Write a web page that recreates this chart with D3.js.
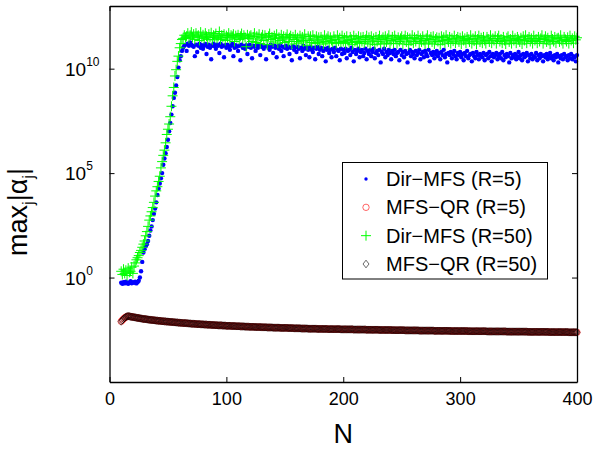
<!DOCTYPE html>
<html>
<head>
<meta charset="utf-8">
<script src="https://cdn.jsdelivr.net/npm/d3@7"></script>
<style>
  body { margin: 0; background: #fff; }
  text { font-family: "Liberation Sans", Arial, Helvetica, sans-serif; fill: #000; }
</style>
</head>
<body>
<svg id="chart" width="593" height="450"></svg>
<script>
// N runs 10..400, one point per N
const nValues = d3.range(10, 401);

// log10 of max_j |alpha_j|
const dirMfsR5Log = [
  -0.25,-0.3,-0.22,-0.28,-0.2,-0.26,-0.3,-0.24,-0.18,-0.27,-0.22,
  -0.25,-0.2,-0.28,-0.22,-0.15,0.0,0.3,0.75,1.2,1.35,1.5,1.6,1.75,2.0,2.25,2.45,2.75,3.05,3.3,3.6,
  3.95,4.25,4.5,4.75,5.0,5.4,5.7,5.95,6.25,6.6,7.0,7.4,7.8,8.2,8.6,8.85,9.2,9.6,10.05,10.4,
  10.6,10.85,11.0,11.1,11.15,
  10.85,11.2,11.1,11.25,11.15,
  11.1,11.05,10.6,11.15,10.8,11.1,11.2,11.0,11.12,10.95,
  11.1,11.18,10.7,11.05,11.15,11.0,10.45,11.1,11.2,11.08,
  10.95,11.15,11.1,10.75,11.2,11.05,11.1,10.55,11.12,11.0,
  11.15,11.05,10.9,11.1,11.18,10.6,11.0,11.12,11.05,10.85,
  11.1,10.4,11.15,11.0,11.08,10.95,11.12,10.7,11.05,11.15,
  11.0,10.5,11.1,11.05,10.85,11.15,11.0,11.1,10.65,11.05,
  11.12,10.95,11.08,10.45,11.1,11.0,10.9,11.15,11.05,10.75,
  11.1,11.0,10.55,11.08,10.95,11.12,10.85,11.05,10.6,11.0,
  11.1,10.95,11.05,10.7,11.0,10.4,11.08,10.9,11.02,10.8,
  11.05,10.95,10.5,11.0,10.85,11.1,10.95,10.65,11.0,10.9,
  10.55,11.05,10.9,10.8,11.0,10.45,10.95,11.05,10.7,10.9,
  11.0,10.6,10.85,10.95,10.35,10.9,11.0,10.75,10.9,10.55,
  10.95,10.8,11.0,10.6,10.9,10.85,10.4,10.95,10.7,10.9,
  10.75,10.95,10.5,10.85,10.9,10.65,11.0,10.8,10.35,10.9,
  10.7,10.85,10.95,10.55,10.8,10.9,10.6,10.75,10.95,10.45,
  10.85,10.7,10.9,10.6,10.8,10.95,10.5,10.75,10.85,10.65,
  10.9,10.3,10.8,10.7,10.95,10.55,10.8,10.65,10.9,10.75,
  10.45,10.85,10.7,10.9,10.6,10.75,10.8,10.4,10.9,10.65,
  10.8,10.55,10.85,10.7,10.3,10.75,10.9,10.6,10.8,10.7,
  10.5,10.85,10.65,10.75,10.9,10.45,10.7,10.8,10.55,10.85,
  10.7,10.6,10.9,10.35,10.75,10.65,10.8,10.5,10.7,10.85,
  10.6,10.75,10.45,10.8,10.65,10.9,10.55,10.7,10.3,10.75,
  10.65,10.8,10.5,10.7,10.85,10.6,10.45,10.75,10.65,10.8,
  10.55,10.7,10.4,10.75,10.6,10.85,10.5,10.65,10.7,10.35,
  10.75,10.6,10.5,10.8,10.65,10.45,10.7,10.6,10.55,10.75,
  10.4,10.65,10.7,10.5,10.8,10.6,10.35,10.7,10.55,10.65,
  10.75,10.45,10.6,10.7,10.5,10.8,10.4,10.65,10.55,10.7,
  10.6,10.3,10.75,10.5,10.65,10.55,10.7,10.45,10.6,10.8,
  10.5,10.65,10.4,10.7,10.55,10.6,10.75,10.35,10.65,10.5,
  10.7,10.45,10.6,10.55,10.75,10.4,10.65,10.5,10.7,10.6,
  10.35,10.65,10.55,10.7,10.45,10.6,10.75,10.5,10.6,10.4,
  10.65,10.55,10.7,10.3,10.6,10.5,10.65,10.45,10.7,10.55,
  10.6,10.4,10.65,10.5,10.7,10.45,10.6,10.55,10.35,10.65
];

const dirMfsR50Log = [
  0.3,0.15,0.4,0.2,0.35,0.1,0.45,0.25,0.3,0.5,0.2,
  0.55,0.7,0.85,0.95,1.05,1.2,1.3,1.45,1.6,1.75,2.0,2.2,2.45,2.75,2.95,3.15,3.35,3.6,3.9,4.15,
  4.35,4.6,4.85,5.25,5.55,5.85,6.1,6.45,6.85,7.1,7.35,7.7,8.2,8.7,9.1,9.65,9.95,10.35,10.6,11.0,
  11.2,11.4,11.45,11.6,11.5,
  11.55,11.7,11.45,11.6,11.75,
  11.5,11.65,11.4,11.7,11.55,11.6,11.35,11.75,11.5,11.62,
  11.45,11.7,11.55,11.4,11.65,11.5,11.72,11.38,11.6,11.5,
  11.68,11.45,11.55,11.78,11.4,11.6,11.5,11.65,11.35,11.58,
  11.5,11.7,11.42,11.6,11.55,11.65,11.3,11.58,11.48,11.62,
  11.4,11.55,11.68,11.45,11.6,11.5,11.05,11.62,11.45,11.55,
  11.6,11.3,11.52,11.7,11.25,11.55,11.42,11.65,11.2,11.5,
  11.62,11.35,11.6,11.48,11.15,11.55,11.68,11.4,11.52,11.28,
  11.58,11.45,11.65,11.22,11.5,11.35,11.62,11.42,11.55,11.25,
  11.5,11.64,11.3,11.48,11.58,11.18,11.52,11.4,11.62,11.3,
  11.48,11.22,11.58,11.35,11.52,11.28,11.65,11.42,11.12,11.55,
  11.35,11.55,11.25,11.6,11.42,11.2,11.55,11.32,11.5,11.25,
  11.52,11.38,11.18,11.6,11.3,11.45,11.55,11.22,11.5,11.35,
  11.25,11.55,11.4,11.2,11.6,11.32,11.48,11.25,11.58,11.3,
  11.48,11.2,11.55,11.35,11.25,11.52,11.4,11.15,11.58,11.3,
  11.45,11.25,11.55,11.2,11.5,11.3,11.52,11.22,11.4,11.58,
  11.28,11.5,11.18,11.55,11.32,11.45,11.15,11.52,11.3,11.42,
  11.58,11.22,11.4,11.5,11.18,11.55,11.28,11.45,11.6,11.2,
  11.35,11.52,11.22,11.58,11.4,11.2,11.5,11.3,11.45,11.55,
  11.18,11.42,11.58,11.28,11.5,11.15,11.45,11.32,11.6,11.22,
  11.5,11.3,11.42,11.58,11.2,11.45,11.28,11.55,11.35,11.18,
  11.45,11.6,11.22,11.4,11.52,11.28,11.55,11.18,11.42,11.5,
  11.3,11.48,11.15,11.55,11.35,11.5,11.22,11.6,11.4,11.28,
  11.52,11.2,11.45,11.32,11.58,11.22,11.42,11.52,11.28,11.48,
  11.18,11.55,11.35,11.45,11.22,11.52,11.4,11.28,11.6,11.2,
  11.45,11.32,11.55,11.18,11.42,11.58,11.28,11.48,11.22,11.52,
  11.35,11.2,11.52,11.42,11.28,11.6,11.22,11.45,11.35,11.55,
  11.2,11.45,11.58,11.3,11.42,11.22,11.52,11.35,11.18,11.48,
  11.55,11.28,11.42,11.2,11.58,11.35,11.45,11.22,11.52,11.4,
  11.28,11.48,11.18,11.55,11.35,11.6,11.22,11.42,11.52,11.3,
  11.45,11.2,11.58,11.35,11.42,11.22,11.52,11.3,11.45,11.6,
  11.2,11.4,11.55,11.28,11.48,11.35,11.18,11.58,11.42,11.3,
  11.52,11.22,11.45,11.48,11.28,11.6,11.35,11.2,11.52,11.4,
  11.3,11.5,11.2,11.58,11.35,11.45,11.22,11.55,11.38,11.48
];

// MFS-QR: R=5 and R=50 lie on top of each other
const mfsQrR5Log = [
  -2.10,-2.04,-1.98,-1.93,-1.89,-1.86,-1.85,-1.86,-1.87,-1.88,-1.89,
  -1.90,-1.91,-1.92,-1.93,-1.94,-1.95,-1.96,-1.97,-1.98,-1.99,
  -1.99,-2.00,-2.01,-2.02,-2.02,-2.03,-2.04,-2.04,-2.05,-2.06,
  -2.06,-2.07,-2.07,-2.08,-2.09,-2.09,-2.10,-2.10,-2.11,-2.11,
  -2.12,-2.12,-2.13,-2.13,-2.14,-2.14,-2.15,-2.15,-2.16,-2.16,
  -2.17,-2.17,-2.18,-2.18,-2.18,-2.19,-2.19,-2.20,-2.20,-2.21,
  -2.21,-2.21,-2.22,-2.22,-2.23,-2.23,-2.23,-2.24,-2.24,-2.24,
  -2.25,-2.25,-2.25,-2.26,-2.26,-2.26,-2.27,-2.27,-2.27,-2.28,
  -2.28,-2.28,-2.29,-2.29,-2.29,-2.29,-2.30,-2.30,-2.30,-2.31,
  -2.31,-2.31,-2.31,-2.32,-2.32,-2.32,-2.32,-2.33,-2.33,-2.33,
  -2.33,-2.34,-2.34,-2.34,-2.34,-2.35,-2.35,-2.35,-2.35,-2.36,
  -2.36,-2.36,-2.36,-2.36,-2.37,-2.37,-2.37,-2.37,-2.37,-2.38,
  -2.38,-2.38,-2.38,-2.38,-2.39,-2.39,-2.39,-2.39,-2.39,-2.40,
  -2.40,-2.40,-2.40,-2.40,-2.40,-2.41,-2.41,-2.41,-2.41,-2.41,
  -2.41,-2.41,-2.42,-2.42,-2.42,-2.42,-2.42,-2.43,-2.43,-2.43,
  -2.43,-2.43,-2.43,-2.44,-2.44,-2.44,-2.44,-2.44,-2.44,-2.45,
  -2.45,-2.45,-2.45,-2.45,-2.45,-2.45,-2.45,-2.46,-2.46,-2.46,
  -2.46,-2.46,-2.46,-2.46,-2.46,-2.46,-2.47,-2.47,-2.47,-2.47,
  -2.47,-2.47,-2.47,-2.47,-2.47,-2.47,-2.47,-2.48,-2.48,-2.48,
  -2.48,-2.48,-2.48,-2.48,-2.48,-2.48,-2.48,-2.48,-2.49,-2.49,
  -2.49,-2.49,-2.49,-2.49,-2.49,-2.49,-2.49,-2.49,-2.49,-2.50,
  -2.50,-2.50,-2.50,-2.50,-2.50,-2.50,-2.50,-2.50,-2.50,-2.50,
  -2.51,-2.51,-2.51,-2.51,-2.51,-2.51,-2.51,-2.51,-2.51,-2.51,
  -2.51,-2.52,-2.52,-2.52,-2.52,-2.52,-2.52,-2.52,-2.52,-2.52,
  -2.52,-2.52,-2.53,-2.53,-2.53,-2.53,-2.53,-2.53,-2.53,-2.53,
  -2.53,-2.53,-2.53,-2.53,-2.54,-2.54,-2.54,-2.54,-2.54,-2.54,
  -2.54,-2.54,-2.54,-2.54,-2.54,-2.54,-2.54,-2.55,-2.55,-2.55,
  -2.55,-2.55,-2.55,-2.55,-2.55,-2.55,-2.55,-2.55,-2.55,-2.55,
  -2.55,-2.56,-2.56,-2.56,-2.56,-2.56,-2.56,-2.56,-2.56,-2.56,
  -2.56,-2.56,-2.56,-2.56,-2.56,-2.56,-2.57,-2.57,-2.57,-2.57,
  -2.57,-2.57,-2.57,-2.57,-2.57,-2.57,-2.57,-2.57,-2.57,-2.57,
  -2.57,-2.57,-2.58,-2.58,-2.58,-2.58,-2.58,-2.58,-2.58,-2.58,
  -2.58,-2.58,-2.58,-2.58,-2.58,-2.58,-2.58,-2.58,-2.58,-2.59,
  -2.59,-2.59,-2.59,-2.59,-2.59,-2.59,-2.59,-2.59,-2.59,-2.59,
  -2.59,-2.59,-2.59,-2.59,-2.59,-2.59,-2.59,-2.60,-2.60,-2.60,
  -2.60,-2.60,-2.60,-2.60,-2.60,-2.60,-2.60,-2.60,-2.60,-2.60,
  -2.60,-2.60,-2.60,-2.60,-2.60,-2.61,-2.61,-2.61,-2.61,-2.61,
  -2.61,-2.61,-2.61,-2.61,-2.61,-2.61,-2.61,-2.61,-2.61,-2.61,
  -2.61,-2.61,-2.62,-2.62,-2.62,-2.62,-2.62,-2.62,-2.62,-2.62
];
const mfsQrR50Log = mfsQrR5Log;

const xTicks = [0, 100, 200, 300, 400];
const yTickExps = [0, 5, 10];
const legendLabels = ['Dir\u2212MFS (R=5)', 'MFS\u2212QR (R=5)', 'Dir\u2212MFS (R=50)', 'MFS\u2212QR (R=50)'];

const box = { left: 109.5, right: 577, top: 6, bottom: 382 };
const svg = d3.select('#chart');

const x = d3.scaleLinear().domain([0, 400]).range([box.left, box.right]);
const y = d3.scaleLog().domain([1e-5, 1e13]).range([box.bottom, box.top]);

const toPoints = logs => logs.map((e, i) => ({ n: nValues[i], v: Math.pow(10, e) }));

const crossPath = s => `M${-s},0H${s}M0,${-s}V${s}`;
const diamondPath = (w, h) => `M0,${-h}L${w},0L0,${h}L${-w},0Z`;

// series, drawn in legend order
const gData = svg.append('g');

gData.selectAll('circle.dir5')
  .data(toPoints(dirMfsR5Log))
  .enter().append('circle')
  .attr('class', 'dir5')
  .attr('cx', d => x(d.n))
  .attr('cy', d => y(d.v))
  .attr('r', 2.2)
  .attr('fill', '#0000ff');

gData.selectAll('circle.qr5')
  .data(toPoints(mfsQrR5Log))
  .enter().append('circle')
  .attr('class', 'qr5')
  .attr('cx', d => x(d.n))
  .attr('cy', d => y(d.v))
  .attr('r', 3.2)
  .attr('fill', 'none')
  .attr('stroke', '#ff0000')
  .attr('stroke-width', 0.6);

gData.selectAll('path.dir50')
  .data(toPoints(dirMfsR50Log))
  .enter().append('path')
  .attr('class', 'dir50')
  .attr('transform', d => `translate(${x(d.n)},${y(d.v)})`)
  .attr('d', crossPath(5))
  .attr('stroke', '#00ff00')
  .attr('stroke-width', 1);

gData.selectAll('path.qr50')
  .data(toPoints(mfsQrR50Log))
  .enter().append('path')
  .attr('class', 'qr50')
  .attr('transform', d => `translate(${x(d.n)},${y(d.v)})`)
  .attr('d', diamondPath(3, 3.8))
  .attr('fill', 'none')
  .attr('stroke', '#000')
  .attr('stroke-width', 0.6);

// axes box with inward ticks on every side
const xAxisB = d3.axisBottom(x).tickValues(xTicks).tickSizeInner(-5).tickSizeOuter(0).tickPadding(10);
const xAxisT = d3.axisTop(x).tickValues(xTicks).tickSizeInner(-5).tickSizeOuter(0).tickFormat('');
const yVals = yTickExps.map(e => Math.pow(10, e));
const yAxisL = d3.axisLeft(y).tickValues(yVals).tickSizeInner(-5).tickSizeOuter(0).tickFormat('');
const yAxisR = d3.axisRight(y).tickValues(yVals).tickSizeInner(-5).tickSizeOuter(0).tickFormat('');

const gxb = svg.append('g').attr('transform', `translate(0,${box.bottom})`).call(xAxisB);
svg.append('g').attr('transform', `translate(0,${box.top})`).call(xAxisT);
svg.append('g').attr('transform', `translate(${box.left},0)`).call(yAxisL);
svg.append('g').attr('transform', `translate(${box.right},0)`).call(yAxisR);

svg.selectAll('.domain').attr('stroke', '#000').attr('stroke-width', 1.3);
svg.selectAll('.tick line').attr('stroke', '#000').attr('stroke-width', 1);
gxb.selectAll('.tick text')
  .style('font-size', '18px')
  .attr('fill', '#000')
  .attr('font-family', '"Liberation Sans", Arial, sans-serif');

// y tick labels as 10^k
const yLab = svg.append('g');
yTickExps.forEach(e => {
  const t = yLab.append('text')
    .attr('x', 65)
    .attr('y', y(Math.pow(10, e)) + 7)
    .style('font-size', '19px');
  t.append('tspan').text('10');
  t.append('tspan').attr('dy', -10).style('font-size', '12px').text(String(e));
});

// axis labels
svg.append('text')
  .attr('x', x(200))
  .attr('y', 443)
  .attr('text-anchor', 'middle')
  .style('font-size', '27px')
  .text('N');

const yTitle = svg.append('text')
  .attr('transform', 'translate(27,212) rotate(-90)')
  .attr('text-anchor', 'middle')
  .style('font-size', '27px');
yTitle.append('tspan').text('max');
yTitle.append('tspan').attr('dy', 7).style('font-size', '17px').text('j');
yTitle.append('tspan').attr('dy', -7).text('|\u03b1');
yTitle.append('tspan').attr('dy', 7).style('font-size', '17px').text('j');
yTitle.append('tspan').attr('dy', -7).text('|');

// legend
const leg = svg.append('g');
leg.append('rect')
  .attr('x', 342.5).attr('y', 162.5)
  .attr('width', 205).attr('height', 116.5)
  .attr('fill', '#fff').attr('stroke', '#000').attr('stroke-width', 1);

const rowY = d3.scalePoint().domain(legendLabels).range([179, 264]);
const mx = 366;
leg.append('circle').attr('cx', mx).attr('cy', rowY(legendLabels[0])).attr('r', 1.7).attr('fill', '#0000ff');
leg.append('circle').attr('cx', mx).attr('cy', rowY(legendLabels[1])).attr('r', 3.2)
  .attr('fill', 'none').attr('stroke', '#ff0000').attr('stroke-width', 0.6);
leg.append('path').attr('transform', `translate(${mx},${rowY(legendLabels[2])})`)
  .attr('d', crossPath(5)).attr('stroke', '#00ff00').attr('stroke-width', 1);
leg.append('path').attr('transform', `translate(${mx},${rowY(legendLabels[3])})`)
  .attr('d', diamondPath(3, 3.8)).attr('fill', 'none').attr('stroke', '#000').attr('stroke-width', 0.6);

leg.selectAll('text.lab')
  .data(legendLabels)
  .enter().append('text')
  .attr('class', 'lab')
  .attr('x', 386)
  .attr('y', d => rowY(d) + 7)
  .style('font-size', '20px')
  .text(d => d);
</script>
</body>
</html>
